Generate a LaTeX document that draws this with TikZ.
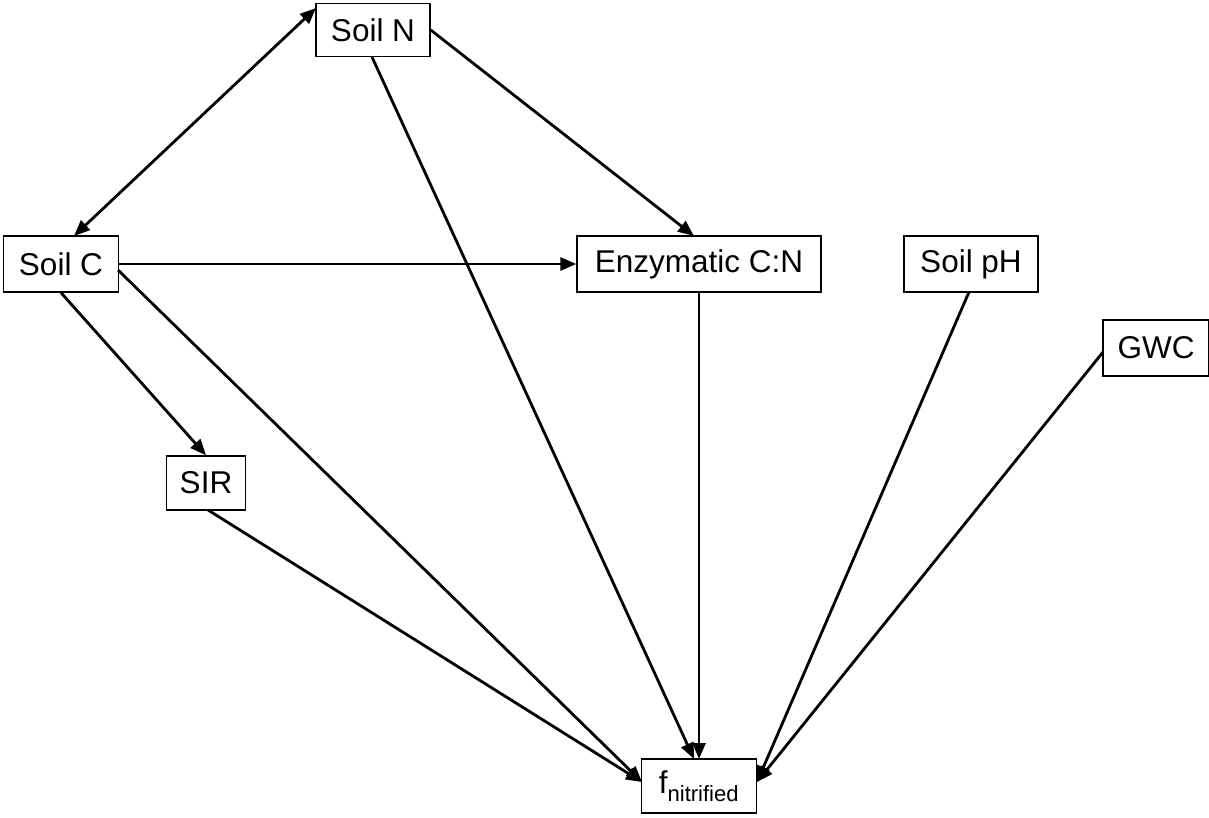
\documentclass[tikz,border=0pt]{standalone}
\usepackage{fontspec}
\setmainfont{Liberation Sans}
\usetikzlibrary{arrows.meta}
\begin{document}
\begin{tikzpicture}[x=1pt,y=-1pt,
  box/.style={draw=black,line width=1.4pt,fill=white,inner sep=0pt,align=center,
    font=\fontsize{31.5}{34}\selectfont},
  arr/.style={line width=2.8pt,-{Triangle[length=16pt,width=13pt]}},
  darr/.style={line width=2.8pt,{Triangle[length=16pt,width=13pt]}-{Triangle[length=16pt,width=13pt]}}]
\useasboundingbox (0,0) rectangle (1209,817);
\node[box,minimum width=114pt,minimum height=53pt] (sn) at (373,30) {Soil N};
\node[box,minimum width=115pt,minimum height=56pt] (sc) at (61,264) {Soil C};
\node[box,minimum width=244pt,minimum height=56pt] (ez) at (699,264) {Enzymatic C:N};
\node[box,minimum width=134pt,minimum height=56pt] (ph) at (971,264) {Soil pH};
\node[box,minimum width=106pt,minimum height=56pt] (gwc) at (1156,348) {GWC};
\node[box,minimum width=79pt,minimum height=54pt] (sir) at (206,483) {SIR};
\node[box,minimum width=115pt,minimum height=54pt] (f) at (699,786) {f\textsubscript{nitrified}};
\coordinate (snL) at (316,8);
\coordinate (scT) at (74,236);
\coordinate (ezT) at (694,236);
\coordinate (fT1) at (694,759);
\coordinate (fT2) at (699,759);
\coordinate (fL) at (642,782);
\coordinate (fR) at (757,782);
\coordinate (scR) at (118,270);
\coordinate (snB) at (372,57);
\coordinate (sirB) at (208,510);
\coordinate (phB) at (969,292);
\coordinate (gwcL) at (1103,352);
\draw[darr] (scT) -- (snL);
\draw[arr] (sn.east) -- (ezT);
\draw[arr] (snB) -- (fT1);
\draw[arr] (ez.south) -- (fT2);
\draw[arr] (sc.east) -- (ez.west);
\draw[arr] (sc.south) -- (sir.north);
\draw[arr] (scR) -- (fL);
\draw[arr] (sirB) -- (fL);
\draw[arr] (phB) -- (fR);
\draw[arr] (gwcL) -- (fR);
\end{tikzpicture}
\end{document}
